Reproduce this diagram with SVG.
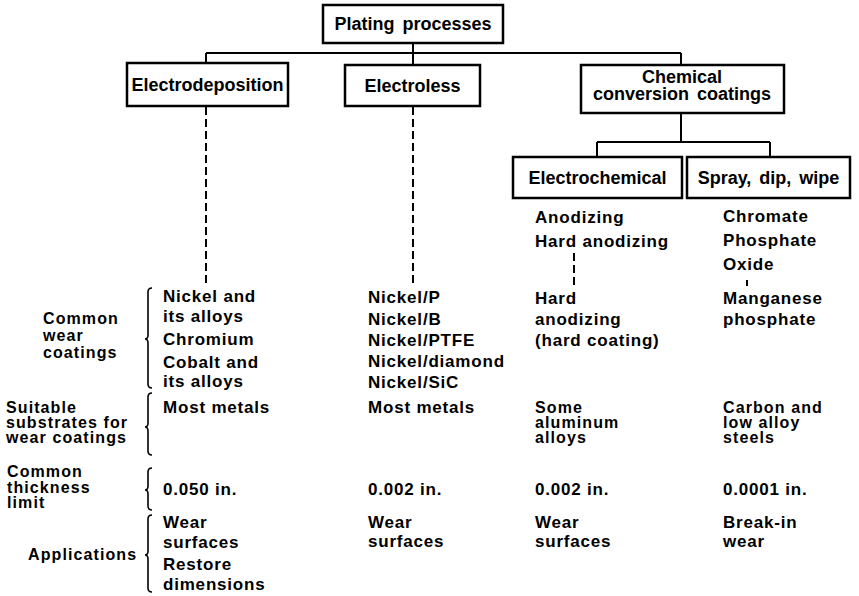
<svg xmlns="http://www.w3.org/2000/svg" width="859" height="596" viewBox="0 0 859 596">
  <style>
    .box { fill: #fff; stroke: #000; stroke-width: 2.5; }
    .head { font-family: "Liberation Sans", Arial, sans-serif; font-weight: bold; font-size: 18px; word-spacing: 3px; fill: #000; }
    .txt { font-family: "Liberation Sans", Arial, sans-serif; font-weight: bold; font-size: 17px; letter-spacing: 0.8px; fill: #000; }
    .lbl, .tight { font-family: "Liberation Sans", Arial, sans-serif; font-weight: bold; font-size: 16px; letter-spacing: 1.1px; fill: #000; }
    .line { fill: none; stroke: #000; stroke-width: 2; }
    .dash { fill: none; stroke: #000; stroke-width: 2; stroke-dasharray: 8 4; }
    .brace { fill: none; stroke: #000; stroke-width: 1.6; }
  </style>
  <rect width="859" height="596" fill="#fff"/>

  <!-- tree connectors -->
  <g id="connectors">
    <path class="line" d="M413,43 V53 M206,53 H681 M206,53 V63 M413,53 V65 M681,53 V65"/>
    <path class="line" d="M681,113 V142 M597,142 H770 M597,142 V157 M770,142 V157"/>
    <path class="dash" d="M206,107 V285"/>
    <path class="dash" d="M413,107 V285"/>
    <path class="dash" d="M574,253 V285"/>
    <path class="line" d="M747,280 V286"/>
  </g>

  <g id="plating">
    <rect class="box" x="323" y="5" width="180" height="38"/>
    <text class="head" x="413" y="30" text-anchor="middle">Plating processes</text>
  </g>
  <g id="electrodeposition">
    <rect class="box" x="127" y="63" width="161" height="43"/>
    <text class="head" x="207.5" y="91" text-anchor="middle">Electrodeposition</text>
  </g>
  <g id="electroless">
    <rect class="box" x="345" y="65" width="135" height="41"/>
    <text class="head" x="412.5" y="92" text-anchor="middle">Electroless</text>
  </g>
  <g id="conversion">
    <rect class="box" x="581" y="65" width="203" height="48"/>
    <text class="head" x="682" y="83" text-anchor="middle">Chemical</text>
    <text class="head" x="682" y="100" text-anchor="middle">conversion coatings</text>
  </g>
  <g id="electrochemical">
    <rect class="box" x="513" y="157" width="169" height="41"/>
    <text class="head" x="597.5" y="184" text-anchor="middle">Electrochemical</text>
  </g>
  <g id="spray">
    <rect class="box" x="687" y="157" width="163" height="41"/>
    <text class="head" x="768.5" y="184" text-anchor="middle">Spray, dip, wipe</text>
  </g>

  <!-- row labels with braces -->
  <g id="row-labels">
    <text class="lbl" x="43" y="324">Common</text>
    <text class="lbl" x="43" y="341">wear</text>
    <text class="lbl" x="43" y="358">coatings</text>
    <text class="lbl" x="6" y="413">Suitable</text>
    <text class="lbl" x="6" y="428">substrates for</text>
    <text class="lbl" x="6" y="443">wear coatings</text>
    <text class="lbl" x="7" y="477">Common</text>
    <text class="lbl" x="7" y="493">thickness</text>
    <text class="lbl" x="7" y="508">limit</text>
    <text class="lbl" x="28" y="560">Applications</text>
  </g>
  <g id="braces">
    <path class="brace" d="M152,288 Q148,288 148,292 V335 Q148,339 145,339 Q148,339 148,343 V384 Q148,388 152,388"/>
    <path class="brace" d="M152,393 Q148,393 148,397 V423 Q148,427 145,427 Q148,427 148,431 V451 Q148,455 152,455"/>
    <path class="brace" d="M152,468 Q148,468 148,472 V486 Q148,490 145,490 Q148,490 148,494 V506 Q148,510 152,510"/>
    <path class="brace" d="M152,515 Q148,515 148,519 V551 Q148,555 145,555 Q148,555 148,559 V588 Q148,592 152,592"/>
  </g>

  <!-- electrodeposition column -->
  <g id="col-electrodeposition" class="txt">
    <text x="163" y="302">Nickel and</text>
    <text x="163" y="322">its alloys</text>
    <text x="163" y="345">Chromium</text>
    <text x="163" y="368">Cobalt and</text>
    <text x="163" y="387">its alloys</text>
    <text x="163" y="413">Most metals</text>
    <text x="163" y="495">0.050 in.</text>
    <text x="163" y="528">Wear</text>
    <text x="163" y="548">surfaces</text>
    <text x="163" y="570">Restore</text>
    <text x="163" y="590">dimensions</text>
  </g>

  <!-- electroless column -->
  <g id="col-electroless" class="txt">
    <text x="368" y="303">Nickel/P</text>
    <text x="368" y="325">Nickel/B</text>
    <text x="368" y="346">Nickel/PTFE</text>
    <text x="368" y="367">Nickel/diamond</text>
    <text x="368" y="388">Nickel/SiC</text>
    <text x="368" y="413">Most metals</text>
    <text x="368" y="495">0.002 in.</text>
    <text x="368" y="528">Wear</text>
    <text x="368" y="547">surfaces</text>
  </g>

  <!-- electrochemical column -->
  <g id="col-electrochemical" class="txt">
    <text x="535" y="223">Anodizing</text>
    <text x="535" y="247">Hard anodizing</text>
    <text x="535" y="304">Hard</text>
    <text x="535" y="325">anodizing</text>
    <text x="535" y="346">(hard coating)</text>
    <text class="tight" x="535" y="413">Some</text>
    <text class="tight" x="535" y="428">aluminum</text>
    <text class="tight" x="535" y="443">alloys</text>
    <text x="535" y="495">0.002 in.</text>
    <text x="535" y="528">Wear</text>
    <text x="535" y="547">surfaces</text>
  </g>

  <!-- spray, dip, wipe column -->
  <g id="col-spray" class="txt">
    <text x="723" y="222">Chromate</text>
    <text x="723" y="246">Phosphate</text>
    <text x="723" y="270">Oxide</text>
    <text x="723" y="304">Manganese</text>
    <text x="723" y="325">phosphate</text>
    <text class="tight" x="723" y="413">Carbon and</text>
    <text class="tight" x="723" y="428">low alloy</text>
    <text class="tight" x="723" y="443">steels</text>
    <text x="723" y="495">0.0001 in.</text>
    <text x="723" y="528">Break-in</text>
    <text x="723" y="547">wear</text>
  </g>
</svg>
